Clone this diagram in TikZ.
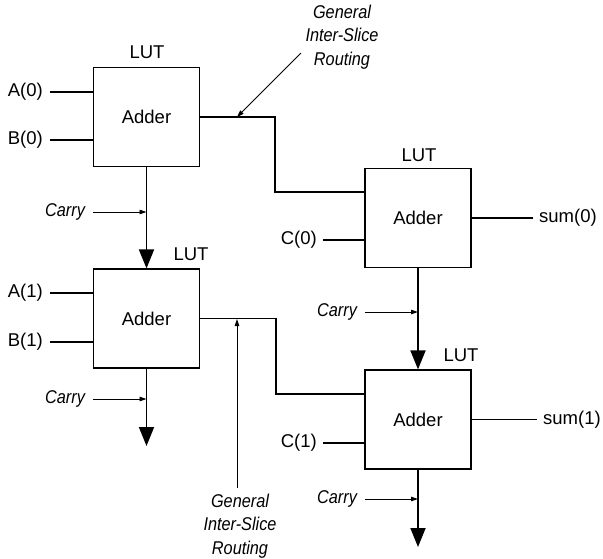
\documentclass[tikz,border=0pt]{standalone}
\usepackage{fontspec}
\setmainfont{Liberation Sans}
\newfontfamily\condit{Liberation Sans}[FakeStretch=0.88]
\usetikzlibrary{arrows.meta}
\begin{document}
\begin{tikzpicture}[x=1pt,y=-1pt,
  lutbox/.style={draw,line width=1.2pt,minimum width=106pt,minimum height=99pt,inner sep=0pt,font=\fontsize{18.5}{22}\selectfont},
  lbl/.style={inner sep=0pt,font=\fontsize{18.5}{22}\selectfont},
  itl/.style={inner sep=0pt,font=\fontsize{18.5}{23.5}\selectfont\condit\itshape,align=center},
  wire/.style={line width=1.2pt},
  carryline/.style={line width=1.8pt,-{Triangle[length=19pt,width=15pt]}},
  thinarrow/.style={line width=0.9pt,-{Triangle[length=7pt,width=4.5pt]}}]
\useasboundingbox (0,0) rectangle (603,558);
% boxes
\node[lutbox] (b1) at (146.5,117) {Adder};
\node[lutbox] (b2) at (146.5,318.5) {Adder};
\node[lutbox] (b3) at (418,218) {Adder};
\node[lutbox] (b4) at (418,419.5) {Adder};
% LUT labels
\node[lbl] (l1) at (147,52) {LUT};
\node[lbl] (l2) at (191,254) {LUT};
\node[lbl] (l3) at (419,155) {LUT};
\node[lbl] (l4) at (461,355) {LUT};
% inputs
\node[lbl,anchor=east] (a0) at (43,92) {A(0)};
\node[lbl,anchor=east] (bb0) at (43,140) {B(0)};
\node[lbl,anchor=east] (a1) at (43,293) {A(1)};
\node[lbl,anchor=east] (bb1) at (43,342) {B(1)};
\node[lbl,anchor=east] (c0) at (317,240) {C(0)};
\node[lbl,anchor=east] (c1) at (317,443) {C(1)};
\draw[wire] ([xshift=7pt]a0.east) -- (b1.west |- a0.east);
\draw[wire] ([xshift=7pt]bb0.east) -- (b1.west |- bb0.east);
\draw[wire] ([xshift=7pt]a1.east) -- (b2.west |- a1.east);
\draw[wire] ([xshift=7pt]bb1.east) -- (b2.west |- bb1.east);
\draw[wire] ([xshift=6pt]c0.east) -- (b3.west |- c0.east);
\draw[wire] ([xshift=6pt]c1.east) -- (b4.west |- c1.east);
% outputs
\node[lbl,anchor=west] (s0) at (539,218) {sum(0)};
\node[lbl,anchor=west] (s1) at (543,419.5) {sum(1)};
\draw[wire] (b3.east) -- ([xshift=-6pt]s0.west);
\draw[wire] (b4.east) -- ([xshift=-6pt]s1.west);
% routing
\draw[wire] (b1.east) -| (275,192) -- (b3.west |- 275,192);
\draw[wire] (b2.east) -| (276,394) -- (b4.west |- 276,394);
% carry chains
\draw[carryline] (b1.south) -- (b2.north);
\draw[carryline] (b3.south) -- (b4.north);
\coordinate (e2) at (146.5,446);
\coordinate (e4) at (418,547);
\draw[carryline] (b2.south) -- (e2);
\draw[carryline] (b4.south) -- (e4);
% carry labels
\node[itl] (k1) at (65,212) {Carry};
\node[itl] (k2) at (65,399) {Carry};
\node[itl] (k3) at (337,312) {Carry};
\node[itl] (k4) at (337,499) {Carry};
\draw[thinarrow] ([xshift=8pt]k1.east) -- (b1.south |- k1.east);
\draw[thinarrow] ([xshift=8pt]k2.east) -- (b2.south |- k2.east);
\draw[thinarrow] ([xshift=8pt]k3.east) -- (b3.south |- k3.east);
\draw[thinarrow] ([xshift=8pt]k4.east) -- (b4.south |- k4.east);
% general inter-slice routing labels
\node[itl] (g1) at (342,37) {General\\Inter-Slice\\Routing};
\node[itl] (g2) at (240,526) {General\\Inter-Slice\\Routing};
\coordinate (g1s) at (301,53);
\coordinate (g1e) at (237,117);
\draw[thinarrow] (g1s) -- (g1e);
\coordinate (g2s) at (237,488);
\coordinate (g2e) at (237,319);
\draw[thinarrow] (g2s) -- (g2e);
\end{tikzpicture}
\end{document}
